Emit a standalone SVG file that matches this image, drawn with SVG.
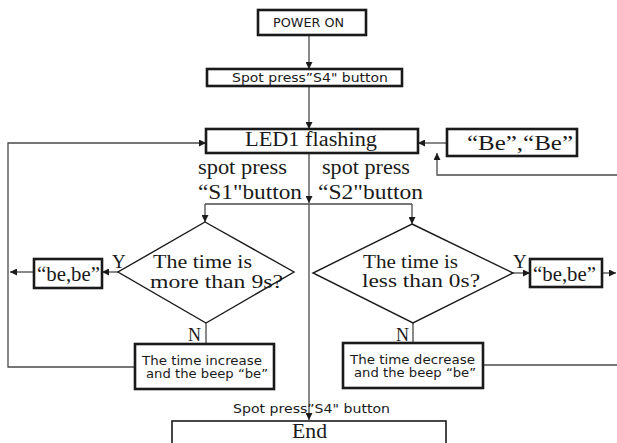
<svg xmlns="http://www.w3.org/2000/svg" width="617" height="443" viewBox="0 0 617 443">
<style>
.bx{fill:#fff;stroke:#1a1a1a;stroke-width:2.6}
.bt{fill:#fff;stroke:#1a1a1a;stroke-width:1.6}
.dm{fill:#fff;stroke:#1a1a1a;stroke-width:1.4}
.ln{fill:none;stroke:#4a4a4a;stroke-width:1.3}
.sf{font-family:"Liberation Serif","Times New Roman",serif;fill:#1a1a1a}
.ss{font-family:"DejaVu Sans",Verdana,sans-serif;fill:#1a1a1a}
</style>
<defs>
<marker id="ah" markerUnits="userSpaceOnUse" markerWidth="7" markerHeight="7" refX="7" refY="3.5" orient="auto">
<path d="M0,0 L7,3.5 L0,7 z" fill="#1a1a1a"/>
</marker>
</defs>
<rect width="617" height="443" fill="#fff"/>
<g id="connectors">
<line class="ln" x1="309" y1="35" x2="309" y2="69" marker-end="url(#ah)"/>
<line class="ln" x1="309" y1="86" x2="309" y2="129" marker-end="url(#ah)"/>
<line class="ln" x1="309" y1="153" x2="309" y2="203" marker-end="url(#ah)"/>
<line class="ln" x1="309" y1="204" x2="309" y2="420" marker-end="url(#ah)"/>
<polyline class="ln" points="205,204 412,204"/>
<line class="ln" x1="205" y1="204" x2="205" y2="222" marker-end="url(#ah)"/>
<line class="ln" x1="412" y1="204" x2="412" y2="224" marker-end="url(#ah)"/>
<line class="ln" x1="118" y1="272" x2="102" y2="272" marker-end="url(#ah)"/>
<line class="ln" x1="34" y1="272" x2="10" y2="272" marker-end="url(#ah)"/>
<polyline class="ln" points="135,367 8,367 8,143 206,143" marker-end="url(#ah)"/>
<line class="ln" x1="206" y1="323" x2="206" y2="344"/>
<line class="ln" x1="513" y1="273" x2="530" y2="273" marker-end="url(#ah)"/>
<line class="ln" x1="602" y1="273" x2="616" y2="273" marker-end="url(#ah)"/>
<line class="ln" x1="413" y1="323" x2="413" y2="343"/>
<line class="ln" x1="483" y1="365" x2="617" y2="365"/>
<polyline class="ln" points="617,175 437,175 437,153" marker-end="url(#ah)"/>
<line class="ln" x1="447" y1="143" x2="418" y2="143" marker-end="url(#ah)"/>
</g>
<g id="power-on">
<rect class="bx" x="258" y="10" width="108" height="25"/>
<text class="ss" x="273" y="27" font-size="11.5" textLength="71" lengthAdjust="spacingAndGlyphs">POWER ON</text>
</g>
<g id="spot-s4-top">
<rect class="bx" x="207" y="69" width="195" height="17"/>
<text class="ss" x="232" y="82" font-size="11.5" textLength="156" lengthAdjust="spacingAndGlyphs">Spot press”S4" button</text>
</g>
<g id="led1">
<rect class="bx" x="206" y="129" width="212" height="24"/>
<text class="sf" x="245" y="146" font-size="20" textLength="132" lengthAdjust="spacingAndGlyphs">LED1 flashing</text>
</g>
<g id="be-be-top">
<rect class="bx" x="447" y="129" width="130" height="27"/>
<text class="sf" x="467" y="150" font-size="21" textLength="106" lengthAdjust="spacingAndGlyphs">“Be”,“Be”</text>
</g>
<g id="label-s1">
<text class="sf" x="198" y="174" font-size="20" textLength="89" lengthAdjust="spacingAndGlyphs">spot press</text>
<text class="sf" x="198" y="199" font-size="20" textLength="104" lengthAdjust="spacingAndGlyphs">“S1"button</text>
</g>
<g id="label-s2">
<text class="sf" x="322" y="174" font-size="20" textLength="88" lengthAdjust="spacingAndGlyphs">spot press</text>
<text class="sf" x="318" y="199" font-size="20" textLength="105" lengthAdjust="spacingAndGlyphs">“S2"button</text>
</g>
<g id="diamond-more">
<polygon class="dm" points="205,222 294,272 206,323 118,272"/>
<text class="sf" x="153" y="268" font-size="19.5" textLength="99" lengthAdjust="spacingAndGlyphs">The time is</text>
<text class="sf" x="150" y="288" font-size="19.5" textLength="133" lengthAdjust="spacingAndGlyphs">more than 9s?</text>
<text class="sf" x="112" y="268" font-size="19">Y</text>
<text class="sf" x="188" y="341" font-size="18">N</text>
</g>
<g id="diamond-less">
<polygon class="dm" points="412,224 513,273 413,323 313,273"/>
<text class="sf" x="363" y="268" font-size="19.5" textLength="95" lengthAdjust="spacingAndGlyphs">The time is</text>
<text class="sf" x="362" y="287" font-size="19.5" textLength="118" lengthAdjust="spacingAndGlyphs">less than 0s?</text>
<text class="sf" x="513" y="268" font-size="19">Y</text>
<text class="sf" x="396" y="341" font-size="18">N</text>
</g>
<g id="be-be-left">
<rect class="bx" x="34" y="259" width="68" height="29"/>
<text class="sf" x="37" y="281" font-size="20" textLength="63" lengthAdjust="spacingAndGlyphs">“be,be”</text>
</g>
<g id="be-be-right">
<rect class="bx" x="530" y="259" width="72" height="28"/>
<text class="sf" x="533" y="281" font-size="20" textLength="63" lengthAdjust="spacingAndGlyphs">“be,be”</text>
</g>
<g id="increase">
<rect class="bx" x="135" y="344" width="139" height="45"/>
<text class="ss" x="142" y="365" font-size="11.5" textLength="120" lengthAdjust="spacingAndGlyphs">The time increase</text>
<text class="ss" x="146" y="378" font-size="11.5" textLength="122" lengthAdjust="spacingAndGlyphs">and the beep “be”</text>
</g>
<g id="decrease">
<rect class="bx" x="343" y="343" width="140" height="45"/>
<text class="ss" x="350" y="364" font-size="11.5" textLength="125" lengthAdjust="spacingAndGlyphs">The time decrease</text>
<text class="ss" x="354" y="377" font-size="11.5" textLength="122" lengthAdjust="spacingAndGlyphs">and the beep “be”</text>
</g>
<g id="spot-s4-bottom">
<text class="ss" x="233" y="413" font-size="11.5" textLength="157" lengthAdjust="spacingAndGlyphs">Spot press”S4" button</text>
</g>
<g id="end">
<rect class="bt" x="172" y="421" width="274" height="30"/>
<text class="sf" x="292" y="438" font-size="22" textLength="35" lengthAdjust="spacingAndGlyphs">End</text>
</g>
</svg>
